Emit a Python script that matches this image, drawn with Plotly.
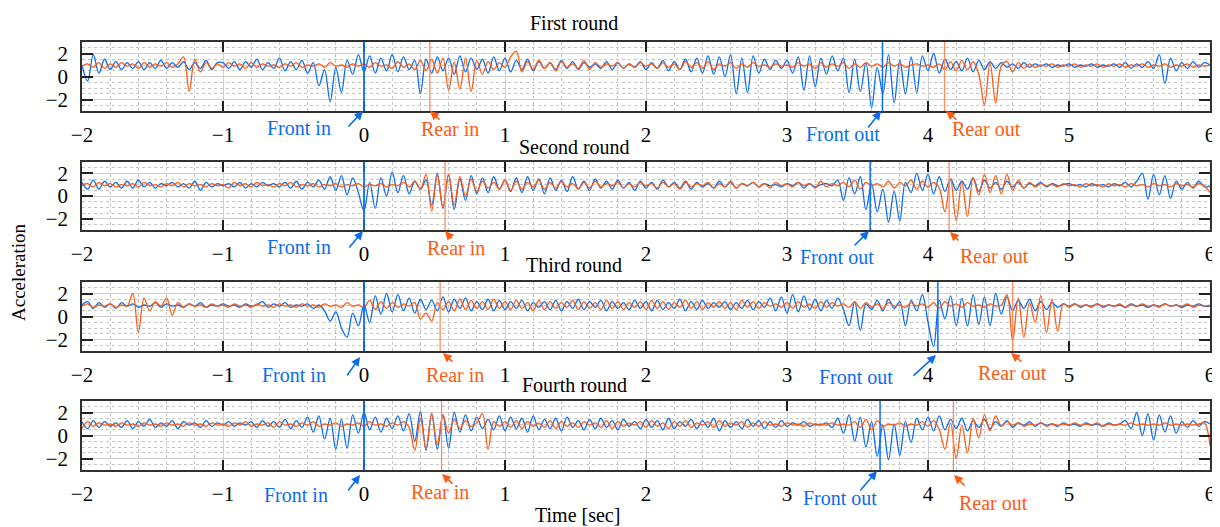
import plotly.graph_objects as go

# ---------------- data ----------------
SAMPLE_DT = 0.04          # s between samples
SAMPLE_T0 = -2.0          # first sample time [s]

round_titles = ["First round", "Second round", "Third round", "Fourth round"]
x_tick_values = [-2, -1, 0, 1, 2, 3, 4, 5, 6]
y_tick_values = [-2, 0, 2]

# event times [s]
front_in_t = [0.0, 0.0, 0.0, 0.0]
rear_in_t = [0.467, 0.575, 0.54, 0.55]
front_out_t = [3.677, 3.59, 4.07, 3.66]
rear_out_t = [4.117, 4.15, 4.60, 4.18]

# Round 1
r1_front = [1.0,-0.4,1.9,0.3,1.5, 0.6,1.3,0.6,1.2,0.7, 1.3,0.6,1.2,0.7,1.4, 0.7,1.2,0.8,1.3,0.6, 1.2,0.7,1.4,0.6,1.2,
            1.2,0.7,1.3,0.6,1.3, 0.8,1.5,0.6,1.2,0.7, 1.6,0.5,1.3,0.6,1.4, 0.3,1.2,-0.8,0.6,-2.2, 0.8,-1.4,1.4,0.2,1.9,
            0.4,1.8,0.3,1.6,0.5, 1.9,0.4,1.7,0.6,1.4, -1.5,1.5,0.3,1.7,0.5, 1.6,0.2,1.8,0.4,1.6, 0.6,1.5,0.3,1.7,0.5,
            1.6,0.4,1.4,0.6,1.5, 0.5,1.3,0.7,1.2,0.6, 1.4,0.7,1.3,0.6,1.2, 0.8,1.1,0.7,1.3,0.6, 1.2,0.7,1.1,0.8,1.3,
            0.6,1.2,0.7,1.4,0.5, 1.3,0.6,1.5,0.4,1.6, 0.3,1.8,0.2,1.7,0.0, 1.9,-1.5,1.6,-1.4,1.8, 0.3,1.5,0.6,1.4,0.7,
            1.4,0.3,1.7,-1.2,1.8, -0.9,1.6,0.2,1.8,0.5, 1.6,-1.4,1.5,-1.3,1.2, -2.7,0.8,-1.5,1.9,-2.3, 1.4,-1.5,1.7,-1.4,1.8,
            0.5,2.0,0.3,1.5,0.6, 1.3,0.5,1.6,0.4,1.4, 0.6,1.3,0.7,1.2,0.8, 1.1,0.7,1.2,0.8,1.1, 0.9,1.1,0.8,1.0,0.9,
            1.1,0.8,1.0,0.9,1.1, 0.8,1.0,0.9,1.1,0.8, 1.2,0.7,1.1,0.8,1.3, 0.7,1.9,-0.6,1.6,0.5, 1.2,0.7,1.3,0.8,1.2, 1.0]
r1_rear = [0.9,1.1,0.8,1.2,0.7, 1.1,0.8,1.2,0.9,1.1, 0.7,1.2,0.8,1.1,0.9, 1.2,0.8,1.1,1.7,-1.3, 1.5,0.4,1.2,0.7,1.1,
           0.8,1.2,0.9,1.1,0.7, 1.2,0.8,1.1,0.9,1.0, 0.8,1.1,0.9,1.2,0.8, 1.0,0.9,1.1,0.8,1.2, 0.9,1.0,0.8,1.1,0.9,
           1.1,0.8,1.2,0.9,1.0, 0.7,1.3,0.8,1.1,0.6, 1.4,0.5,1.5,0.3,1.6, -1.2,1.3,-1.1,1.6,-1.3, 1.4,0.2,1.3,0.6,1.2,
           0.8,1.7,2.2,0.4,1.3, 0.6,1.4,0.7,1.2,0.5, 1.3,0.8,1.1,0.7,1.4, 0.6,1.2,0.8,1.1,0.9, 1.2,0.7,1.1,0.8,1.2,
           0.9,1.1,0.7,1.2,0.8, 1.1,0.6,1.3,0.8,1.2, 0.7,1.3,0.6,1.1,0.9, 1.2,0.7,1.1,0.8,1.2, 0.9,1.0,0.8,1.1,0.9,
           1.0,0.8,1.2,0.9,1.1, 0.7,1.2,0.8,1.1,0.9, 1.2,0.7,1.1,0.8,1.2, 0.9,1.1,0.8,1.2,0.9, 1.1,0.8,1.0,1.1,0.9,
           1.0,0.8,1.1,0.6,1.3, 0.5,1.4,0.6,1.3,0.2, -2.5,1.2,-2.3,0.9,1.3, 0.4,1.2,0.7,1.1,0.8, 1.0,0.9,1.1,0.8,1.0,
           0.9,1.1,0.8,1.0,0.9, 1.1,0.8,1.0,0.9,1.1, 0.8,1.0,0.9,1.1,0.8, 1.0,0.9,1.1,0.8,1.0, 0.9,1.1,0.8,1.0,0.9, 1.0]

# Round 2
r2_front = [1.2,0.6,1.4,0.6,1.3, 0.8,1.2,0.7,1.3,0.7, 1.4,0.8,1.2,0.7,1.1, 0.9,1.2,0.8,1.1,0.7, 1.3,0.5,1.2,0.8,1.1,
            0.9,1.1,0.8,1.2,0.7, 1.1,0.8,1.2,0.9,1.1, 0.8,1.2,0.7,1.3,0.6, 1.2,0.8,1.4,0.6,1.7, 0.5,1.8,0.1,1.6,0.3,
            -1.3,1.2,-1.1,1.6,0.0, 2.1,0.3,1.8,0.2,1.3, 0.6,1.4,-0.8,2.0,-1.1, 1.9,-1.2,1.5,-0.4,1.8, 0.2,1.6,0.3,1.7,0.6,
            1.4,0.4,1.6,0.3,1.7, 0.5,1.5,0.2,1.6,0.5, 1.4,0.4,1.7,0.6,1.3, 0.5,1.5,0.7,1.3,0.6, 1.4,0.7,1.2,0.5,1.3,
            0.7,1.2,0.6,1.4,0.8, 1.2,0.7,1.3,0.6,1.2, 0.8,1.1,0.7,1.3,0.8, 1.2,0.7,1.1,0.9,1.2, 0.8,1.1,0.9,1.0,0.8,
            1.1,0.9,1.2,0.7,1.1, 0.8,1.0,1.1,0.9,1.4, -0.4,1.6,0.2,1.7,-1.2, 1.1,-1.4,0.6,-2.3,0.4, -2.2,1.2,0.3,2.0,0.5,
            1.9,0.2,1.7,0.4,1.5, 0.5,1.3,0.6,1.6,0.4, 1.4,0.7,1.2,0.6,1.3, 0.8,1.2,0.7,1.1,0.9, 1.2,0.8,1.1,0.9,1.0,
            1.1,0.9,1.0,0.8,1.1, 0.9,1.0,0.8,1.1,0.9, 1.2,0.8,1.3,2.0,-0.3, 1.9,0.1,1.8,-0.2,1.3, 0.6,1.2,0.7,1.3,0.8, 0.9]
r2_rear = [0.9,1.1,0.8,1.2,0.9, 1.1,0.8,1.0,0.9,1.1, 0.8,1.2,0.9,1.0,0.8, 1.1,0.9,1.2,0.8,1.1, 0.9,1.0,0.8,1.1,0.9,
           1.0,0.7,1.2,0.9,1.1, 0.8,1.2,0.9,1.0,0.8, 1.1,0.9,1.2,0.8,1.0, 0.9,1.1,0.8,1.0,0.9, 1.1,0.8,1.0,0.9,1.1,
           0.8,1.0,0.9,1.1,0.8, 1.0,0.9,1.2,0.8,1.3, 0.6,1.9,-1.3,1.8,-1.0, 1.9,-0.8,1.7,0.0,1.5, 0.4,1.3,0.7,1.2,0.6,
           1.4,0.5,1.3,0.6,1.2, 0.8,1.4,0.6,1.2,0.7, 1.3,0.8,1.1,0.6,1.2, 0.7,1.3,0.8,1.1,0.9, 1.2,0.7,1.1,0.8,1.2,
           0.9,1.1,0.7,1.2,0.8, 1.1,0.6,1.2,0.8,1.1, 0.9,1.2,0.7,1.1,0.8, 1.3,0.7,1.1,0.9,1.2, 0.8,1.1,0.7,1.2,0.9,
           1.1,0.8,1.2,0.9,1.1, 0.7,1.3,0.8,1.1,0.9, 1.2,0.8,1.4,0.6,1.2, 0.9,1.1,0.8,1.3,0.7, 1.2,0.9,1.4,0.6,1.3,
           0.8,1.2,0.7,-1.4,1.5, -2.2,1.2,-1.8,1.6,0.1, 1.9,0.3,1.8,0.2,1.9, 0.5,1.4,0.7,1.2,0.8, 1.1,0.9,1.0,0.8,1.1,
           0.9,1.0,0.8,1.1,0.9, 1.0,0.8,1.1,0.9,1.0, 0.8,1.1,0.9,1.0,0.8, 1.1,0.9,1.0,0.8,1.1, 0.9,1.0,0.8,1.1,0.9, 0.3]

# Round 3
r3_front = [1.0,1.3,0.7,1.2,0.8, 1.1,0.7,1.2,0.9,1.1, 0.8,1.0,0.9,1.2,0.8, 1.1,0.9,1.0,0.8,1.1, 0.9,1.2,0.8,1.0,0.9,
            1.1,0.9,1.0,0.8,1.1, 0.9,1.0,1.3,0.8,1.1, 0.9,1.2,0.8,1.0,0.9, 1.1,0.7,1.0,0.5,-0.4, 0.4,-1.0,-1.8,0.3,-0.8,
            1.0,-0.5,1.8,0.2,2.0, 0.4,1.9,0.5,1.6,0.3, 1.5,0.6,1.4,0.5,1.7, 0.4,1.5,0.7,1.6,0.5, 1.3,0.6,1.5,0.5,1.4,
            0.6,1.3,0.7,1.4,0.5, 1.2,0.8,1.3,0.6,1.4, 0.5,1.3,0.7,1.5,0.6, 1.3,0.8,1.4,0.5,1.3, 0.7,1.2,0.6,1.4,0.7,
            1.3,0.5,1.4,0.6,1.2, 0.7,1.5,0.5,1.3,0.6, 1.4,0.7,1.2,0.8,1.3, 0.6,1.2,0.7,1.4,0.6, 1.3,0.8,1.6,0.5,1.7,
            0.3,1.9,0.4,1.8,0.6, 1.5,0.5,1.4,0.7,1.6, 0.6,-0.8,1.3,-1.2,1.1, 0.6,1.4,0.5,1.5,0.7, 1.3,-0.8,1.4,0.5,1.9,
            -0.5,-2.6,1.4,-0.2,1.8, -0.8,1.6,-0.8,1.9,-0.7, 1.7,-0.8,2.0,0.2,1.7, 0.5,1.4,0.7,1.5,0.5, 1.3,0.6,1.2,0.8,1.1,
            0.9,1.1,0.8,1.0,0.9, 1.1,0.8,1.0,0.9,1.0, 0.8,1.1,0.9,1.0,0.8, 1.0,0.9,1.1,0.9,1.0, 0.8,1.0,0.9,1.1,0.9, 0.9]
r3_rear = [0.9,1.1,0.8,1.0,0.9, 1.1,0.8,1.0,0.9,2.0, -1.4,1.6,0.5,1.3,0.9, 1.6,0.1,1.2,0.8,1.1, 0.9,1.0,0.8,1.1,0.9,
           1.0,0.8,1.1,0.9,1.0, 0.8,1.1,0.9,1.0,0.8, 1.1,0.9,1.0,0.8,1.1, 0.9,1.0,0.8,1.1,0.9, 1.0,0.8,1.2,0.9,1.0,
           0.8,1.4,0.6,1.3,0.7, 1.2,0.8,1.1,0.9,1.2, -0.2,0.3,-0.4,1.2,0.6, 1.3,0.5,1.5,0.6,1.4, 0.7,1.3,0.6,1.5,0.7,
           1.3,0.6,1.4,0.7,1.2, 0.5,1.4,0.6,1.3,0.7, 1.2,0.8,1.4,0.6,1.3, 0.7,1.2,0.6,1.4,0.7, 1.3,0.6,1.2,0.8,1.3,
           0.6,1.4,0.7,1.3,0.6, 1.2,0.8,1.4,0.7,1.3, 0.6,1.2,0.8,1.3,0.7, 1.2,0.6,1.4,0.8,1.3, 0.7,1.2,0.9,1.1,0.8,
           1.2,0.7,1.3,0.8,1.1, 0.7,1.3,0.8,1.2,0.9, 1.1,0.8,1.3,0.7,1.2, 0.8,1.1,0.7,1.2,0.9, 1.0,0.8,1.2,0.9,1.1,
           0.8,1.2,0.7,1.3,0.9, 1.1,0.8,1.2,0.9,1.0, 0.8,1.1,0.9,1.0,1.9, -2.1,1.6,-1.8,1.2,-0.5, 1.8,-1.4,1.5,-1.3,1.1,
           0.8,1.1,0.9,1.0,0.8, 1.1,0.9,1.0,0.9,1.1, 0.8,1.0,0.9,1.1,0.9, 1.0,0.8,1.1,0.9,1.0, 0.9,1.1,0.8,1.0,0.9, 1.0]

# Round 4
r4_front = [1.2,0.6,1.3,0.7,1.2, 0.8,1.1,0.7,1.3,0.6, 1.2,0.8,1.4,0.7,1.1, 0.8,1.3,0.6,1.2,0.9, 1.1,0.7,1.3,0.8,1.1,
            0.9,1.2,0.8,1.1,0.9, 1.2,0.7,1.3,0.8,1.2, 0.7,1.4,0.6,1.3,0.7, 1.6,0.3,1.7,-0.3,1.5, -1.2,1.4,-1.1,1.8,0.2,
            2.0,0.5,1.6,0.3,1.5, 0.6,1.7,0.4,1.9,-0.5, 2.1,-1.3,1.9,-1.2,1.8, -1.1,2.0,0.3,1.8,0.4, 1.6,0.6,1.4,0.5,1.7,
            0.4,1.6,0.6,1.5,0.3, 1.7,0.5,1.4,0.6,1.5, 0.4,1.6,0.7,1.3,0.5, 1.4,0.6,1.5,0.7,1.3, 0.5,1.4,0.8,1.2,0.6,
            1.4,0.7,1.3,0.5,1.5, 0.6,1.2,0.8,1.4,0.6, 1.3,0.7,1.5,0.4,1.3, 0.7,1.2,0.6,1.4,0.8, 1.3,0.6,1.2,0.7,1.3,
            0.8,1.1,0.9,1.2,0.8, 1.0,0.9,1.1,0.7,1.5, 0.2,1.8,-0.5,1.6,-1.0, 1.2,-1.8,0.9,-2.1,1.0, -1.7,1.2,-0.6,1.5,0.5,
            1.6,0.4,1.7,0.5,1.4, 0.6,1.5,0.4,1.3,0.7, 1.4,0.6,1.2,0.8,1.3, 0.7,1.1,0.9,1.2,0.8, 1.1,0.9,1.0,0.8,1.1,
            0.9,1.0,0.8,1.1,0.9, 1.0,0.8,1.1,0.9,1.0, 1.3,0.6,2.0,0.0,1.9, -0.4,1.8,0.3,1.7,0.2, 1.2,0.7,1.3,0.8,1.2, 1.0]
r4_rear = [0.6,1.2,0.8,1.1,0.9, 1.0,0.8,1.1,0.9,1.0, 0.8,1.1,0.9,1.0,0.8, 1.1,0.9,1.0,0.8,1.1, 0.9,1.0,0.8,1.1,0.9,
           1.0,0.8,1.1,0.9,1.2, 0.8,1.0,0.9,1.1,0.7, 1.2,0.9,1.0,0.8,1.1, 0.9,1.2,0.8,1.0,0.9, 1.1,0.8,1.0,0.9,1.1,
           0.8,1.2,0.9,1.0,0.8, 1.1,0.9,1.2,0.7,-1.3, 1.5,-1.1,1.9,-0.8,1.8, 0.2,1.4,0.6,1.3,0.8, 1.1,1.9,-1.2,1.2,0.8,
           1.2,0.7,1.3,0.6,1.2, 0.8,1.1,0.7,1.3,0.6, 1.2,0.8,1.1,0.7,1.2, 0.9,1.1,0.7,1.3,0.6, 1.2,0.8,1.1,0.9,1.2,
           0.7,1.3,0.8,1.1,0.6, 1.2,0.8,1.3,0.7,1.1, 0.9,1.2,0.7,1.3,0.8, 1.1,0.9,1.2,0.7,1.1, 0.8,1.2,0.9,1.0,0.8,
           1.1,0.9,1.0,0.8,1.1, 0.9,1.0,0.9,1.1,0.9, 1.0,0.9,1.2,0.7,1.4, 0.5,1.3,0.8,1.0,0.9, 1.1,0.8,1.0,0.9,1.2,
           0.8,1.3,0.5,-1.2,1.1, -2.0,0.9,-1.5,1.5,-0.2, 1.8,0.4,1.7,0.8,1.2, 0.9,1.1,0.8,1.0,0.9, 1.1,0.8,1.0,0.9,1.0,
           0.9,1.1,0.9,1.0,0.9, 1.1,0.8,1.0,0.9,1.0, 0.9,1.1,0.9,1.0,0.9, 1.0,0.9,1.1,0.9,1.0, 0.9,1.0,0.9,1.0,1.1, -0.9]

front_series = [r1_front, r2_front, r3_front, r4_front]
rear_series = [r1_rear, r2_rear, r3_rear, r4_rear]

# ---------------- styling / layout ----------------
PAGE_OFF = 8                       # default page margin of the html body
W, H = 1220 - PAGE_OFF, 527 - PAGE_OFF
BLUE = "#0a6cf0"
ORANGE = "#ff5a14"
ORANGE_LINE = "#ff8a5c"
FONT = "Liberation Serif"

def px(x):
    return (x - PAGE_OFF) / W

def py(y):
    return 1 - (y - PAGE_OFF) / H

PLOT_L, PLOT_R = 82, 1210
TOPS = [42, 162, 282, 401]
BOTTOMS = [111, 230, 351, 470]

fig = go.Figure()

for k in range(4):
    suffix = "" if k == 0 else str(k + 1)
    ys = [front_series[k], rear_series[k]]
    for vals, col in zip(ys, [BLUE, ORANGE]):
        t = [round(SAMPLE_T0 + SAMPLE_DT * i, 4) for i in range(len(vals))]
        fig.add_trace(go.Scatter(x=t, y=vals, mode="lines",
                                 line=dict(color=col, width=1.3, shape="spline",
                                           smoothing=1.0),
                                 xaxis="x" + suffix, yaxis="y" + suffix,
                                 showlegend=False, hoverinfo="skip"))

    axis_common = dict(showline=True, linecolor="#303030", linewidth=1.5,
                       mirror="ticks", ticks="inside", tickcolor="#202020",
                       tickwidth=1.5, zeroline=False, showgrid=True,
                       gridcolor="#cfcfcf", gridwidth=1, automargin=False,
                       tickfont=dict(family=FONT, size=21, color="black"))
    fig.update_layout({
        "xaxis" + suffix: dict(axis_common,
                               domain=[px(PLOT_L), px(PLOT_R)],
                               anchor="y" + suffix,
                               range=[-2, 6], tickmode="array",
                               tickvals=x_tick_values, ticklen=10,
                               ticklabelstandoff=4,
                               minor=dict(tickmode="linear", tick0=-2, dtick=0.2,
                                          showgrid=True, griddash="dot",
                                          gridcolor="#c4c4c4", gridwidth=1,
                                          ticks="")),
        "yaxis" + suffix: dict(axis_common,
                               domain=[py(BOTTOMS[k]), py(TOPS[k])],
                               anchor="x" + suffix,
                               range=[-3, 3], tickmode="array",
                               tickvals=y_tick_values, ticklen=11,
                               ticklabelstandoff=8,
                               minor=dict(tickmode="linear", tick0=-3, dtick=0.5,
                                          showgrid=True, griddash="dot",
                                          gridcolor="#c4c4c4", gridwidth=1,
                                          ticks="")),
    })

    # event lines
    for tx, col, w in [(front_in_t[k], BLUE, 1.8), (front_out_t[k], BLUE, 1.5),
                       (rear_in_t[k], ORANGE_LINE, 1.3), (rear_out_t[k], ORANGE_LINE, 1.3)]:
        fig.add_shape(type="line", xref="x" + suffix, yref="y" + suffix + " domain",
                      x0=tx, x1=tx, y0=0, y1=1, line=dict(color=col, width=w))

    # round title
    title_y = [23, 147, 265, 385][k]
    fig.add_annotation(x=px(574), y=py(title_y), xref="paper", yref="paper",
                       text=round_titles[k], showarrow=False,
                       font=dict(family=FONT, size=20, color="black"),
                       xanchor="center", yanchor="middle")

# event labels: (text, colour, text centre px, arrow start px, arrow tip px)
event_labels = [
    [("Front in", BLUE, (299, 128), (347, 128), (363, 111)),
     ("Rear in", ORANGE, (450, 129), (441, 121), (430, 111)),
     ("Front out", BLUE, (843, 134), (867, 129), (881, 111)),
     ("Rear out", ORANGE, (986, 129), (958, 121), (946, 111))],
    [("Front in", BLUE, (299, 247), (348, 249), (363, 231)),
     ("Rear in", ORANGE, (456, 248), (453, 240), (445, 231)),
     ("Front out", BLUE, (837, 257), (853, 247), (869, 231)),
     ("Rear out", ORANGE, (995, 256), (960, 242), (950, 232))],
    [("Front in", BLUE, (294, 375), (346, 377), (360, 357)),
     ("Rear in", ORANGE, (455, 375), (454, 363), (443, 353)),
     ("Front out", BLUE, (856, 377), (912, 377), (936, 355)),
     ("Rear out", ORANGE, (1012, 373), (1023, 363), (1011, 353))],
    [("Front in", BLUE, (296, 495), (347, 492), (360, 475)),
     ("Rear in", ORANGE, (440, 492), (454, 485), (442, 474)),
     ("Front out", BLUE, (840, 498), (859, 492), (877, 471)),
     ("Rear out", ORANGE, (993, 503), (966, 487), (954, 475))],
]

for row in event_labels:
    for text, col, (tx, ty), (sx, sy), (hx, hy) in row:
        fig.add_annotation(x=px(tx), y=py(ty), xref="paper", yref="paper",
                           text=text, showarrow=False,
                           font=dict(family=FONT, size=20, color=col),
                           xanchor="center", yanchor="middle")
        fig.add_annotation(x=px(hx), y=py(hy), xref="paper", yref="paper",
                           text="", showarrow=True, ax=sx - hx, ay=sy - hy,
                           arrowhead=2, arrowsize=1.1, arrowwidth=1.6,
                           arrowcolor=col, standoff=0, startstandoff=0)

# axis titles
fig.add_annotation(x=px(577), y=py(515), xref="paper", yref="paper",
                   text="Time [sec]", showarrow=False,
                   font=dict(family=FONT, size=20, color="black"),
                   xanchor="center", yanchor="middle")
fig.add_annotation(x=px(18), y=py(272), xref="paper", yref="paper",
                   text="Acceleration", showarrow=False, textangle=-90,
                   font=dict(family=FONT, size=19, color="black"),
                   xanchor="center", yanchor="middle")

fig.update_layout(width=W, height=H, margin=dict(l=0, r=0, t=0, b=0, autoexpand=False),
                  paper_bgcolor="white", plot_bgcolor="white",
                  showlegend=False)

fig.write_html("out.html")
